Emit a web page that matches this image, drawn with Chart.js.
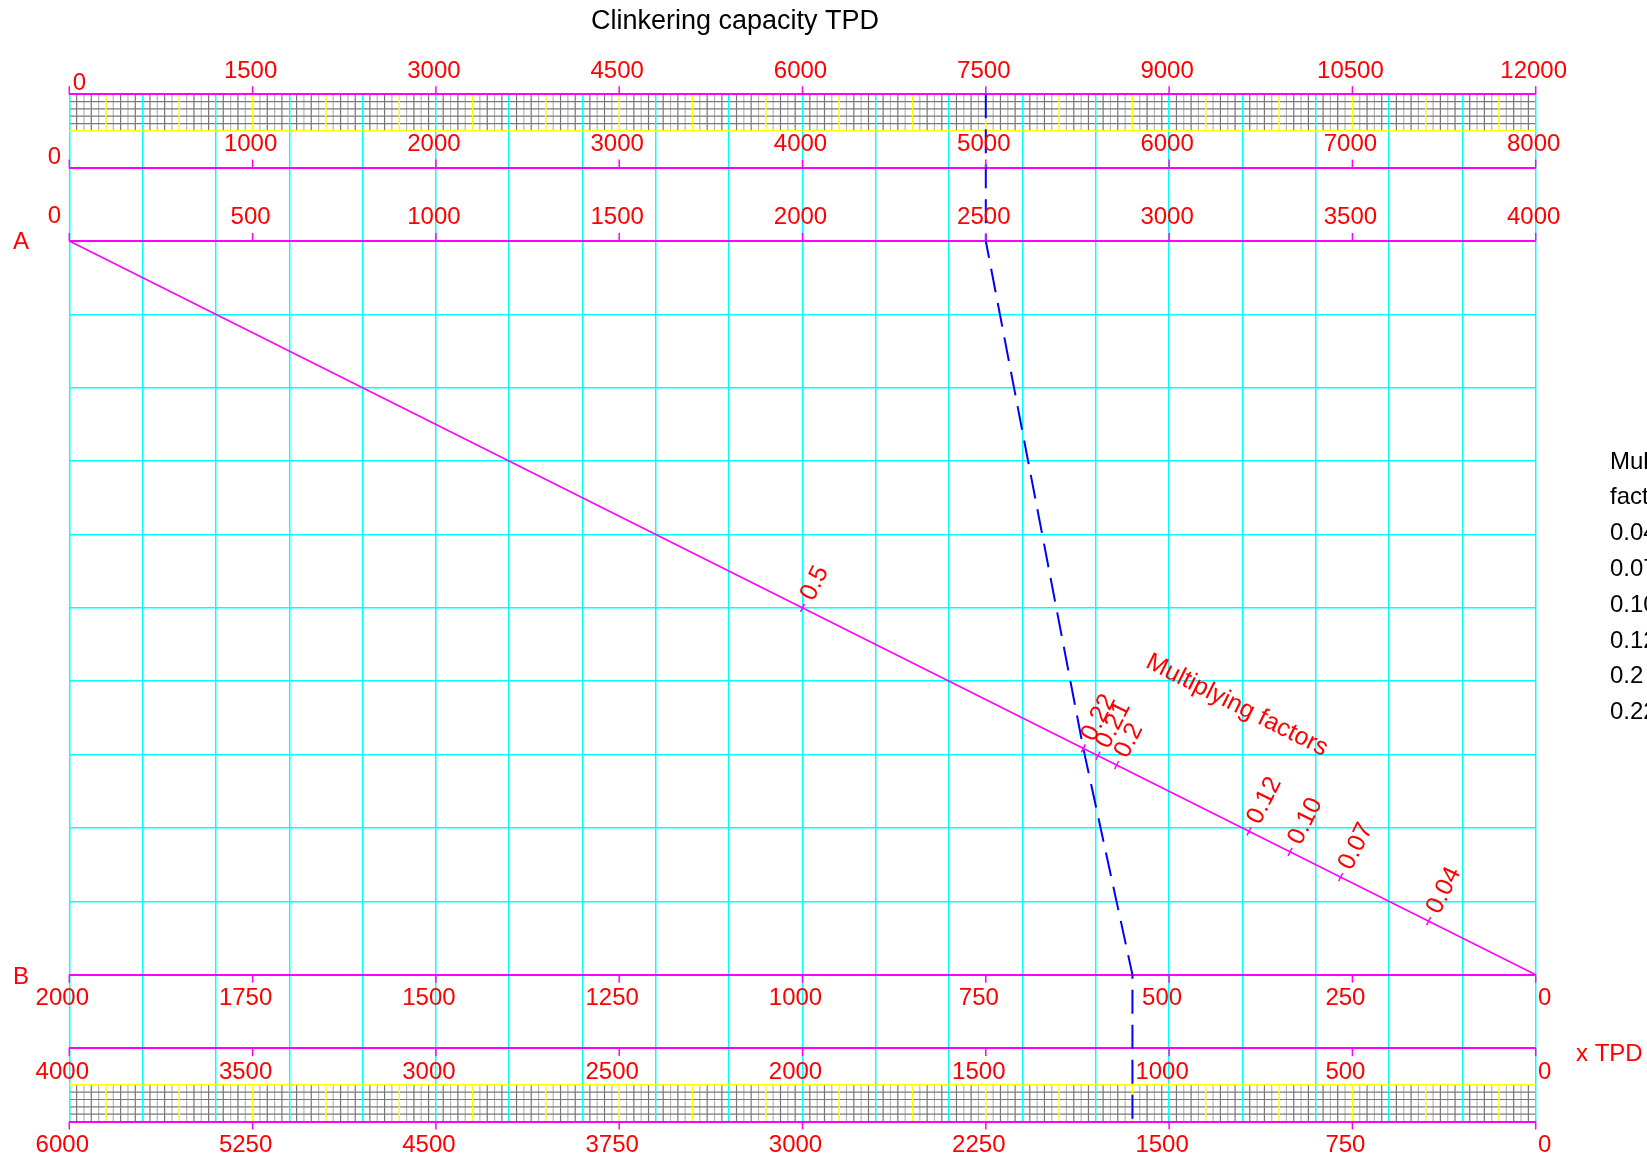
<!DOCTYPE html>
<html>
<head>
<meta charset="utf-8">
<title>Clinkering capacity TPD</title>
<script src="https://cdn.jsdelivr.net/npm/chart.js@4.4.1/dist/chart.umd.min.js"></script>
<style>
    html, body { margin: 0; padding: 0; background: #ffffff; }
    #wrap { width: 1647px; height: 1158px; }
</style>
</head>
<body>
<div id="wrap"><canvas id="nomogram" width="1647" height="1158"></canvas></div>
<script>
// Scale rows of the nomogram, labels left to right
const topScale = [0, 1500, 3000, 4500, 6000, 7500, 9000, 10500, 12000];
const midScale = [0, 1000, 2000, 3000, 4000, 5000, 6000, 7000, 8000];
const scaleA = [0, 500, 1000, 1500, 2000, 2500, 3000, 3500, 4000];
const scaleB = [2000, 1750, 1500, 1250, 1000, 750, 500, 250, 0];
const lowScale = [4000, 3500, 3000, 2500, 2000, 1500, 1000, 500, 0];
const baseScale = [6000, 5250, 4500, 3750, 3000, 2250, 1500, 750, 0];

// Multiplying factor marks on the A-B line (x on scale A, y in grid rows)
const factorLabels = ['0.5', '0.22', '0.21', '0.2', '0.12', '0.10', '0.07', '0.04'];
const factorX = [2000, 2766, 2806, 2857, 3218, 3330, 3468, 3708];
const factorY = [7.0, 5.085, 4.985, 4.858, 3.955, 3.675, 3.33, 2.73];

// A-B line
const lineX = [0, 4000];
const lineY = [12, 2];

// Worked example (dashed blue)
const exampleX = [2500, 2500, 2766, 2900, 2900];
const exampleY = [14, 12, 5.085, 2, 0];

const legendLines = ['Multiplying', 'factors', '0.04', '0.07', '0.10', '0.12', '0.2', '0.22'];

const MAGENTA = '#ff00ff';
const CYAN = '#00ffff';
const YELLOW = '#ffff00';
const RED = '#ff0000';
const FONT = '"Liberation Sans", Arial, sans-serif';

const toPoints = (xs, ys) => xs.map((x, i) => ({ x: x, y: ys[i] }));

// Fine grey grid in the two narrow bands, drawn under the main grid
const bandPlugin = {
    id: 'bands',
    beforeDraw(chart) {
        const { ctx, scales: { x, y } } = chart;
        const bands = [[13.5, 14], [0, 0.5]];
        ctx.save();
        bands.forEach(([lo, hi]) => {
            const yTop = y.getPixelForValue(hi);
            const yBot = y.getPixelForValue(lo);
            ctx.lineWidth = 1.2;
            for (let k = 0; k <= 200; k++) {
                const v = k * 20;
                if (v % 100 === 0) continue;
                // alternate dark / light like the printed sheet
                ctx.strokeStyle = (k % 2) ? '#777777' : '#b4b4b4';
                const px = x.getPixelForValue(v);
                ctx.beginPath();
                ctx.moveTo(px, yTop);
                ctx.lineTo(px, yBot);
                ctx.stroke();
            }
            ctx.strokeStyle = '#7a7a7a';
            for (let r = 1; r < 5; r++) {
                const py = y.getPixelForValue(lo + r * 0.1);
                ctx.beginPath();
                ctx.moveTo(x.left, py);
                ctx.lineTo(x.right, py);
                ctx.stroke();
            }
            ctx.strokeStyle = YELLOW;
            ctx.lineWidth = 1.5;
            for (let v = 100; v < 4000; v += 200) {
                const px = x.getPixelForValue(v);
                ctx.beginPath();
                ctx.moveTo(px, yTop);
                ctx.lineTo(px, yBot);
                ctx.stroke();
            }
        });
        ctx.restore();
    }
};

// Scale ticks, numbers and all the text
const labelPlugin = {
    id: 'labels',
    afterDraw(chart) {
        const { ctx, scales: { x, y } } = chart;
        const rows = [
            { labels: topScale, level: 14, up: true },
            { labels: midScale, level: 13, up: true },
            { labels: scaleA, level: 12, up: true },
            { labels: scaleB, level: 2, up: false },
            { labels: lowScale, level: 1, up: false },
            { labels: baseScale, level: 0, up: false }
        ];
        ctx.save();
        ctx.font = '24px ' + FONT;
        ctx.textAlign = 'center';
        ctx.textBaseline = 'alphabetic';

        rows.forEach(row => {
            const first = row.labels[0];
            const last = row.labels[row.labels.length - 1];
            const py = y.getPixelForValue(row.level);
            row.labels.forEach((v, i) => {
                const px = x.getPixelForValue((v - first) / (last - first) * 4000);
                ctx.strokeStyle = MAGENTA;
                ctx.lineWidth = 1.5;
                ctx.beginPath();
                ctx.moveTo(px, py);
                ctx.lineTo(px, row.up ? py - 8 : py + 8);
                ctx.stroke();

                let lx = row.up ? px - 2 : px - 7;
                let ly = row.up ? py - 25 : py + 22;
                if (row.up && i === 0) {
                    if (row.level === 14) { lx = px + 10; ly = py - 12.5; }
                    else if (row.level === 13) { lx = px - 15; ly = py - 12.5; }
                    else { lx = px - 15; ly = py - 26; }
                }
                if (!row.up && i === row.labels.length - 1) lx = px + 9;
                ctx.fillStyle = RED;
                ctx.fillText(String(v), lx, ly + 8.5);
            });
        });

        // A and B ends
        ctx.fillStyle = RED;
        ctx.fillText('A', 21, y.getPixelForValue(12) + 8);
        ctx.fillText('B', 21, y.getPixelForValue(2) + 9);

        ctx.textAlign = 'left';
        ctx.fillText('x TPD', 1576, y.getPixelForValue(1) + 13);

        // factor labels, perpendicular to the A-B line
        const ax = x.getPixelForValue(lineX[0]), ay = y.getPixelForValue(lineY[0]);
        const bx = x.getPixelForValue(lineX[1]), by = y.getPixelForValue(lineY[1]);
        const ang = Math.atan2(by - ay, bx - ax);
        ctx.textBaseline = 'middle';
        ctx.font = '25px ' + FONT;
        factorLabels.forEach((t, i) => {
            const px = x.getPixelForValue(factorX[i]);
            const py = y.getPixelForValue(factorY[i]);
            ctx.save();
            ctx.translate(px, py);
            ctx.rotate(ang - Math.PI / 2);
            ctx.fillText(t, 10, 0);
            ctx.restore();
        });

        ctx.save();
        ctx.font = '25px ' + FONT;
        ctx.textAlign = 'center';
        ctx.translate(x.getPixelForValue(3185), y.getPixelForValue(5.67));
        ctx.rotate(ang);
        ctx.fillText('Multiplying factors', 0, 0);
        ctx.restore();

        // title
        ctx.fillStyle = '#000000';
        ctx.textBaseline = 'alphabetic';
        ctx.textAlign = 'center';
        ctx.font = '27px ' + FONT;
        ctx.fillText('Clinkering capacity TPD', 735, 28.5);

        // side legend (runs off the right edge)
        ctx.textAlign = 'left';
        ctx.font = '24px ' + FONT;
        legendLines.forEach((t, i) => {
            ctx.fillText(t, 1610, 468.5 + i * 35.8);
        });
        ctx.restore();
    }
};

const yGridColor = (c) => {
    const v = c.tick.value;
    if ([0, 1, 2, 12, 13, 14].includes(v)) return MAGENTA;
    if (v === 0.5 || v === 13.5) return YELLOW;
    if (v % 1 !== 0) return 'rgba(0,0,0,0)';
    return CYAN;
};

new Chart(document.getElementById('nomogram'), {
    type: 'scatter',
    data: {
        datasets: [
            {
                label: 'A-B',
                data: toPoints(lineX, lineY),
                showLine: true,
                borderColor: MAGENTA,
                borderWidth: 1.5,
                pointRadius: 0
            },
            {
                label: 'Multiplying factors',
                data: toPoints(factorX, factorY),
                showLine: false,
                pointStyle: 'line',
                pointRotation: 116.57,
                rotation: 116.57,
                pointRadius: 4.5,
                borderColor: MAGENTA,
                pointBorderColor: MAGENTA,
                pointBorderWidth: 1.5
            },
            {
                label: 'Example',
                data: toPoints(exampleX, exampleY),
                showLine: true,
                borderColor: '#0000ff',
                borderWidth: 2,
                borderDash: [24, 11],
                pointRadius: 0,
                tension: 0
            }
        ]
    },
    options: {
        responsive: false,
        devicePixelRatio: 1,
        animation: false,
        events: [],
        layout: {
            padding: { left: 69.3, right: 111.3, top: 94.2, bottom: 36.5 }
        },
        plugins: {
            legend: { display: false },
            tooltip: { enabled: false }
        },
        scales: {
            x: {
                type: 'linear',
                min: 0,
                max: 4000,
                ticks: { display: false, stepSize: 200 },
                grid: { color: CYAN, lineWidth: 1.5, drawTicks: false },
                border: { display: false }
            },
            y: {
                type: 'linear',
                min: 0,
                max: 14,
                ticks: { display: false, stepSize: 0.5 },
                grid: {
                    color: yGridColor,
                    lineWidth: (c) => ([0, 1, 2, 12, 13, 14].includes(c.tick.value) ? 2 : 1.5),
                    drawTicks: false
                },
                border: { display: false }
            }
        }
    },
    plugins: [bandPlugin, labelPlugin]
});
</script>
</body>
</html>
